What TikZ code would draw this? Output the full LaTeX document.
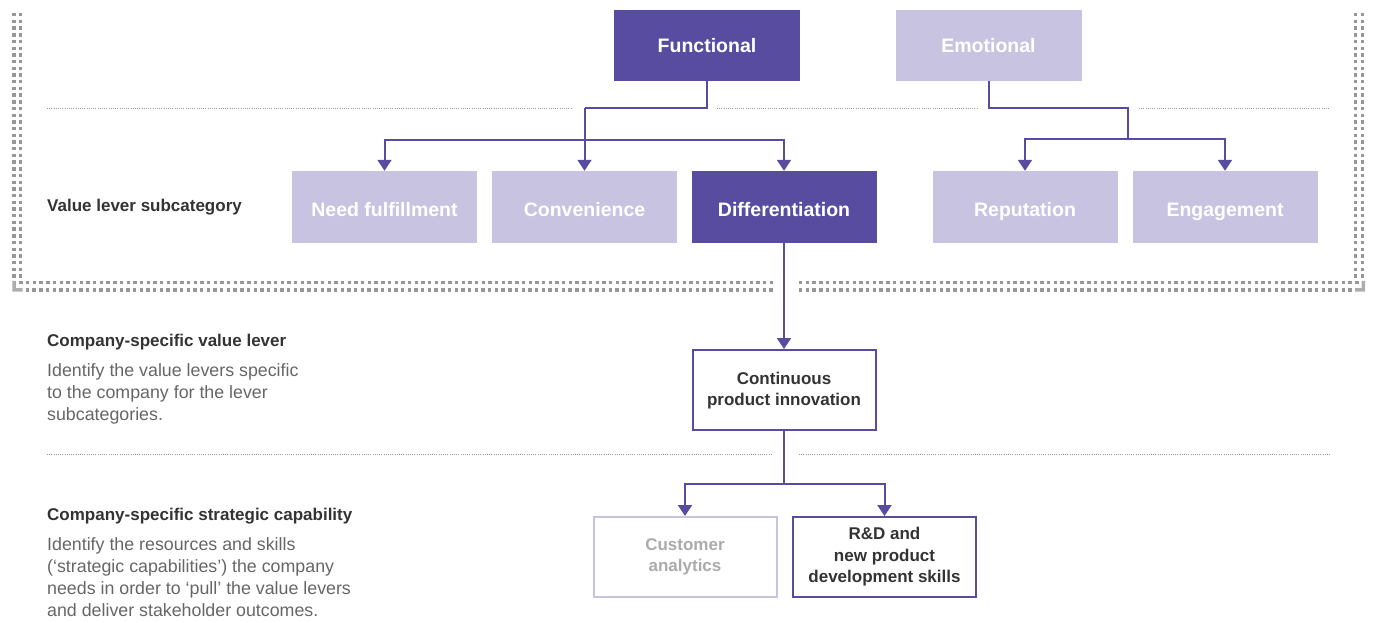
\documentclass[tikz,border=0pt]{standalone}
\usepackage{fontspec}
\setmainfont{Liberation Sans}
\usetikzlibrary{arrows.meta}
\definecolor{dpurple}{HTML}{574CA0}
\definecolor{lpurple}{HTML}{C8C3E1}
\definecolor{bordergray}{HTML}{979797}
\definecolor{cornergray}{HTML}{ADADAD}
\definecolor{sepgray}{HTML}{9A9A9A}
\definecolor{headtext}{HTML}{333333}
\definecolor{desctext}{HTML}{666666}
\definecolor{fadedtext}{HTML}{ABABAB}
\begin{document}
\begin{tikzpicture}[x=1pt,y=-1pt,
  box/.style={minimum width=185pt, minimum height=72pt, inner sep=0pt, align=center,
    font=\bfseries\fontsize{19.5}{23}\selectfont, text=white, text height=18pt, text depth=0pt},
  topbox/.style={box, minimum width=186pt, minimum height=71pt, text height=15pt, text depth=2pt},
  darkbox/.style={box, fill=dpurple},
  lightbox/.style={box, fill=lpurple},
  outbox/.style={minimum width=183pt, minimum height=80pt, inner sep=0pt, align=center,
    draw=dpurple, line width=2pt, font=\bfseries\fontsize{17}{21.5}\selectfont, text=headtext},
  fadedbox/.style={outbox, draw=lpurple, text=fadedtext},
  conn/.style={draw=dpurple, line width=2pt},
  arr/.style={conn, -{Triangle[width=14pt,length=11pt]}},
  bordot/.style={draw=bordergray, line width=3.4pt, dash pattern=on 3.4pt off 3.3pt},
  sepline/.style={draw=sepgray, line width=0.9pt, dash pattern=on 1pt off 1.2pt},
  head/.style={anchor=base west, inner sep=0pt, text=headtext,
    font=\bfseries\fontsize{17}{21}\selectfont},
  desc/.style={anchor=base west, inner sep=0pt, text=desctext, align=left,
    font=\fontsize{17.8}{22}\selectfont}
]
\useasboundingbox (0,0) rectangle (1375,622);

% dotted frame
\draw[bordot] (14,13) -- (14,279);
\draw[bordot] (20.7,13) -- (20.7,279);
\draw[bordot] (1355.5,13) -- (1355.5,279);
\draw[bordot] (1362.3,13) -- (1362.3,279);
\draw[bordot] (19.3,282.6) -- (776,282.6);
\draw[bordot] (25.7,289.9) -- (776,289.9);
\draw[bordot] (799,282.6) -- (1359,282.6);
\draw[bordot] (799,289.9) -- (1352,289.9);
\fill[cornergray] (12.3,280.8) rectangle (15.8,291.6) (12.3,288.1) rectangle (22.5,291.6);
\fill[cornergray] (1361.7,280.8) rectangle (1365.2,291.6) (1355,288.1) rectangle (1365.2,291.6);

% separators
\draw[sepline] (47,108) -- (572,108);
\draw[sepline] (717,108) -- (978,108);
\draw[sepline] (1139,108) -- (1330,108);
\draw[sepline] (47,454) -- (773,454);
\draw[sepline] (799,454) -- (1330,454);

% nodes
\node[topbox, fill=dpurple] (func) at (707,45.5) {Functional};
\node[topbox, fill=lpurple] (emot) at (988.5,45.5) {Emotional};
\node[lightbox] (need) at (384.5,207) {Need fulfillment};
\node[lightbox] (conv) at (584.5,207) {Convenience};
\node[darkbox] (diff) at (784,207) {Differentiation};
\node[lightbox] (rep) at (1025,207) {Reputation};
\node[lightbox] (eng) at (1225,207) {Engagement};
\node[outbox] (cont) at (784,390) {\rule{0pt}{14pt}Continuous\\product innovation};
\node[fadedbox] (cust) at (685,557) {Customer\\analytics};
\node[outbox] (rnd) at (884.5,557) {R\&D and\\new product\\development skills};

% left labels (base = baseline of the last line)
\node[head] (h1) at (47,211) {Value lever subcategory};
\node[head] (h2) at (47,346) {Company-specific value lever};
\node[desc] (d2) at (47,420) {Identify the value levers specific\\to the company for the lever\\subcategories.};
\node[head] (h3) at (47,520) {Company-specific strategic capability};
\node[desc] (d3) at (47,616) {Identify the resources and skills\\(‘strategic capabilities’) the company\\needs in order to ‘pull’ the value levers\\and deliver stakeholder outcomes.};

% connectors
\coordinate (fj) at (584.5,108);
\coordinate (fb) at (584.5,140);
\draw[conn] (func.south) |- (fj);
\draw[arr] (fj) -- (conv.north);
\draw[arr] (fb) -| (need.north);
\draw[arr] (fb) -| (diff.north);

\coordinate (ej) at (1128,108);
\coordinate (eb) at (1128,139);
\draw[conn] (emot.south) |- (ej) -- (eb);
\draw[arr] (eb) -| (rep.north);
\draw[arr] (eb) -| (eng.north);

\draw[arr] (diff.south) -- (cont.north);

\coordinate (cb) at (784,484);
\draw[conn] (cont.south) -- (cb);
\draw[arr] (cb) -| (cust.north);
\draw[arr] (cb) -| (rnd.north);
\end{tikzpicture}
\end{document}
